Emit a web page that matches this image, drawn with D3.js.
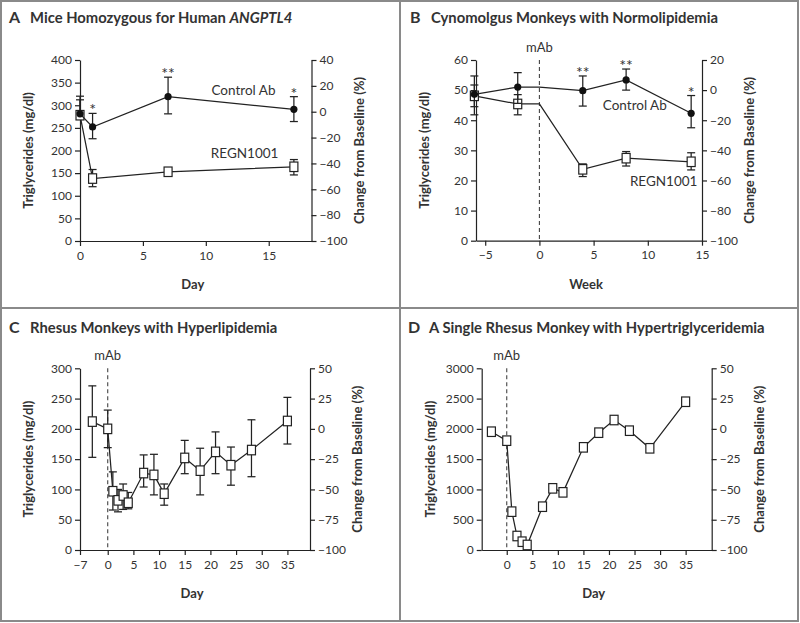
<!DOCTYPE html>
<html>
<head>
<meta charset="utf-8">
<script src="https://cdn.jsdelivr.net/npm/d3@7"></script>
<style>
body{margin:0;background:#fff;}
svg text{font-family:Lato,"Open Sans",sans-serif;fill:#333;}
</style>
</head>
<body>
<svg id="svg" width="800" height="623"></svg>
<script>
// ---- data ----
// A: mice, day
var daysA = [0, 1, 7, 17];
var controlA = [281, 252, 319, 291];
var controlAHi = [320, 282, 362, 319];
var controlALo = [281, 226, 281, 264];
var regnA = [278, 138, 153, 164];
var regnAHi = [312, 158, 157, 180];
var regnALo = [278, 120, 149, 146];
var starsA = ["", "*", "**", "*"];

// B: cynomolgus, week (week 0 is a line vertex without marker)
var weeksB = [-6, -2, 0, 4, 8, 14];
var markB = [1, 1, 0, 1, 1, 1];
var controlB = [48.6, 51, 51, 49.8, 53.4, 42.3];
var controlBHi = [54.7, 55.8, null, 54.7, 57, 48.2];
var controlBLo = [41.8, 45.6, null, 44.7, 50, 37.5];
var regnB = [48.1, 45.4, 45.4, 23.7, 27.4, 26.2];
var regnBHi = [51.7, 48.5, null, 25.5, 29.6, 29.2];
var regnBLo = [44.5, 41.8, null, 21.3, 24.8, 23.5];
var starsB = ["", "", "", "**", "**", "*"];

// C: rhesus, day
var daysC = [-3, 0, 1, 2, 3, 4, 7, 9, 11, 15, 18, 21, 24, 28, 35];
var regnC = [212, 200, 97, 82, 90, 78, 127, 124, 93, 152, 131, 162, 140, 165, 213];
var regnCHi = [271, 231, 129, 100, 109, 95, 157, 158, 109, 181, 168, 195, 170, 215, 252];
var regnCLo = [153, 169, 66, 63, 67, 68, 104, 91, 74, 126, 91, 126, 107, 121, 175];

// D: single rhesus, day
var daysD = [-3, 0, 1, 2, 3, 4, 7, 9, 11, 15, 18, 21, 24, 28, 35];
var regnD = [1953, 1805, 633, 231, 137, 83, 715, 1018, 952, 1695, 1937, 2146, 1970, 1679, 2448];

// ticks
var yTicksA = [0, 50, 100, 150, 200, 250, 300, 350, 400];
var rTicksA = [-100, -80, -60, -40, -20, 0, 20, 40];
var xTicksA = [0, 5, 10, 15];
var yTicksB = [0, 10, 20, 30, 40, 50, 60];
var rTicksB = [-100, -80, -60, -40, -20, 0, 20];
var xTicksB = [-5, 0, 5, 10, 15];
var yTicksC = [0, 50, 100, 150, 200, 250, 300];
var rTicksC = [-100, -75, -50, -25, 0, 25, 50];
var xTicksC = [-5.4, 0, 5, 10, 15, 20, 25, 30, 35];
var xLabelsC = ["\u22127", "0", "5", "10", "15", "20", "25", "30", "35"];
var yTicksD = [0, 500, 1000, 1500, 2000, 2500, 3000];
var rTicksD = [-100, -75, -50, -25, 0, 25, 50];
var xTicksD = [0, 5, 10, 15, 20, 25, 30, 35];

var ink = "#222";
var svg = d3.select("svg");

// frame
svg.append("rect").attr("x",1).attr("y",1).attr("width",797).attr("height",620)
    .attr("fill","none").attr("stroke","#8a8a8a").attr("stroke-width",2);
svg.append("line").attr("x1",400).attr("x2",400).attr("y1",1).attr("y2",621)
    .attr("stroke","#8a8a8a").attr("stroke-width",2);
svg.append("line").attr("x1",1).attr("x2",798).attr("y1",308).attr("y2",308)
    .attr("stroke","#8a8a8a").attr("stroke-width",2);

var styleAxis = function(g){
    g.selectAll("path,line").attr("stroke",ink).attr("stroke-width",1.2);
    g.selectAll("text").attr("font-size","12px").attr("fill","#333")
	.attr("font-family","Lato,'Open Sans',sans-serif");
};

var panel = function(p){
    var g = svg.append("g");
    var x = d3.scaleLinear().domain(p.xDomain).range([p.x0, p.x1]);
    var y = d3.scaleLinear().domain(p.yDomain).range([p.y1, p.y0]);
    var r = d3.scaleLinear().domain(p.rDomain).range([p.y1, p.y0]);

    g.append("g").attr("transform","translate(" + p.x0 + ",0)")
	.call(d3.axisLeft(y).tickValues(p.yTicks).tickSize(5).tickSizeOuter(0).tickFormat(d3.format("d")))
	.call(styleAxis);
    g.append("g").attr("transform","translate(" + p.x1 + ",0)")
	.call(d3.axisRight(r).tickValues(p.rTicks).tickSize(5).tickSizeOuter(0).tickFormat(d3.format("d")))
	.call(styleAxis);
    var xa = d3.axisBottom(x).tickValues(p.xTicks).tickSize(5).tickSizeOuter(0).tickPadding(5);
    if(p.xLabels) xa.tickFormat(function(d,i){ return p.xLabels[i]; });
    else xa.tickFormat(d3.format("d"));
    g.append("g").attr("transform","translate(0," + p.y1 + ")").call(xa).call(styleAxis);

    // titles
    g.append("text").attr("x",p.tx).attr("y",p.ty).attr("font-size","16px").attr("font-weight","bold")
	.attr("fill","#111").text(p.letter);
    var t = g.append("text").attr("x",p.tx + 21).attr("y",p.ty).attr("font-size","14.8px")
	.attr("font-weight","bold").attr("fill","#111").text(p.title);
    if(p.italic) t.append("tspan").attr("font-style","italic").text(p.italic);

    g.append("text").attr("x",(p.x0 + p.x1)/2 - 3).attr("y",p.y1 + 48).attr("text-anchor","middle")
	.attr("font-size","13px").attr("font-weight","bold").attr("fill","#111").text(p.xTitle);
    g.append("text").attr("transform","translate(" + (p.x0 - 47) + "," + (p.y0 + p.y1)/2 + ") rotate(-90)")
	.attr("text-anchor","middle").attr("font-size","13px").attr("font-weight","bold")
	.attr("fill","#111").text("Triglycerides (mg/dl)");
    g.append("text").attr("transform","translate(" + (p.x1 + 52) + "," + (p.y0 + p.y1)/2 + ") rotate(-90)")
	.attr("text-anchor","middle").attr("font-size","13px").attr("font-weight","bold")
	.attr("fill","#111").text("Change from Baseline (%)");

    if(p.mab){
	g.append("line").attr("x1",x(0)).attr("x2",x(0)).attr("y1",p.y0).attr("y2",p.y1)
	    .attr("stroke","#444").attr("stroke-width",1.1).attr("stroke-dasharray","4,3");
	g.append("text").attr("x",x(0)).attr("y",p.y0 - 8).attr("text-anchor","middle")
	    .attr("font-size","13px").text("mAb");
    }

    _series(g, x, y, p.series);
    return {x:x, y:y, g:g};
};

var _series = function(g, x, y, list){
    list.forEach(function(s){
	var pts = s.xs.map(function(d,i){
	    return {x:d, v:s.vs[i], hi:s.hi ? s.hi[i] : null, lo:s.lo ? s.lo[i] : null,
		    m:s.mark ? s.mark[i] : 1, star:s.stars ? s.stars[i] : ""};
	});
	var eb = pts.filter(function(d){ return d.hi != null; });
	var e = g.append("g").attr("stroke",ink).attr("stroke-width",1.25);
	e.selectAll(".v").data(eb).enter().append("line")
	    .attr("x1",function(d){ return x(d.x); }).attr("x2",function(d){ return x(d.x); })
	    .attr("y1",function(d){ return y(d.hi); }).attr("y2",function(d){ return y(d.lo); });
	e.selectAll(".h").data(eb).enter().append("line")
	    .attr("x1",function(d){ return x(d.x) - 4; }).attr("x2",function(d){ return x(d.x) + 4; })
	    .attr("y1",function(d){ return y(d.hi); }).attr("y2",function(d){ return y(d.hi); });
	e.selectAll(".l").data(eb.filter(function(d){ return d.lo != d.v; })).enter().append("line")
	    .attr("x1",function(d){ return x(d.x) - 4; }).attr("x2",function(d){ return x(d.x) + 4; })
	    .attr("y1",function(d){ return y(d.lo); }).attr("y2",function(d){ return y(d.lo); });

	g.append("path").datum(pts).attr("fill","none").attr("stroke",ink).attr("stroke-width",1.25)
	    .attr("d",d3.line().x(function(d){ return x(d.x); }).y(function(d){ return y(d.v); }));

	var mk = pts.filter(function(d){ return d.m; });
	if(s.shape == "circle"){
	    g.selectAll(null).data(mk).enter().append("circle")
		.attr("cx",function(d){ return x(d.x); }).attr("cy",function(d){ return y(d.v); })
		.attr("r",3.6).attr("fill","#111");
	} else {
	    g.selectAll(null).data(mk).enter().append("rect")
		.attr("x",function(d){ return x(d.x) - 4; }).attr("y",function(d){ return y(d.v) - 4.75; })
		.attr("width",8).attr("height",9.5).attr("fill","#fff")
		.attr("stroke",ink).attr("stroke-width",1.2);
	}
	g.selectAll(null).data(pts.filter(function(d){ return d.star; })).enter().append("text")
	    .attr("x",function(d){ return x(d.x); }).attr("y",function(d){ return y(d.hi) + 2; })
	    .attr("text-anchor","middle").attr("font-size","16px").attr("fill","#888")
	    .text(function(d){ return d.star; });
    });
};

var A = panel({x0:80, x1:311.5, y0:60, y1:241, xDomain:[0,18.4], yDomain:[0,400], rDomain:[-100,40],
	       yTicks:yTicksA, rTicks:rTicksA, xTicks:xTicksA, letter:"A", tx:9, ty:23,
	       title:"Mice Homozygous for Human ", italic:"ANGPTL4", xTitle:"Day",
	       series:[{xs:daysA, vs:regnA, hi:regnAHi, lo:regnALo, shape:"square"},
		       {xs:daysA, vs:controlA, hi:controlAHi, lo:controlALo, stars:starsA, shape:"circle"}]});
A.g.append("text").attr("x",A.x(10.45)).attr("y",A.y(320) - 1).attr("font-size","13.5px").text("Control Ab");
A.g.append("text").attr("x",A.x(10.4)).attr("y",A.y(183)).attr("font-size","13.5px").text("REGN1001");

var B = panel({x0:476, x1:702, y0:60, y1:240.7, xDomain:[-5.85,15], yDomain:[0,60], rDomain:[-100,20],
	       yTicks:yTicksB, rTicks:rTicksB, xTicks:xTicksB, letter:"B", tx:410, ty:23,
	       title:"Cynomolgus Monkeys with Normolipidemia", xTitle:"Week", mab:true,
	       series:[{xs:weeksB, vs:regnB, hi:regnBHi, lo:regnBLo, mark:markB, shape:"square"},
		       {xs:weeksB, vs:controlB, hi:controlBHi, lo:controlBLo, mark:markB, stars:starsB, shape:"circle"}]});
B.g.append("text").attr("x",B.x(5.85)).attr("y",B.y(43.5)).attr("font-size","13.5px").text("Control Ab");
B.g.append("text").attr("x",B.x(8.35)).attr("y",B.y(18)).attr("font-size","13.5px").text("REGN1001");

var C = panel({x0:80, x1:310, y0:368.3, y1:550, xDomain:[-5.4,39.4], yDomain:[0,300], rDomain:[-100,50],
	       yTicks:yTicksC, rTicks:rTicksC, xTicks:xTicksC, xLabels:xLabelsC, letter:"C", tx:9, ty:333,
	       title:"Rhesus Monkeys with Hyperlipidemia", xTitle:"Day", mab:true,
	       series:[{xs:daysC, vs:regnC, hi:regnCHi, lo:regnCLo, shape:"square"}]});

var D = panel({x0:481.7, x1:711.7, y0:368.3, y1:550, xDomain:[-4.9,40.1], yDomain:[0,3000], rDomain:[-100,50],
	       yTicks:yTicksD, rTicks:rTicksD, xTicks:xTicksD, letter:"D", tx:408, ty:333,
	       title:"A Single Rhesus Monkey with Hypertriglyceridemia", xTitle:"Day", mab:true,
	       series:[{xs:daysD, vs:regnD, shape:"square"}]});
</script>
</body>
</html>
